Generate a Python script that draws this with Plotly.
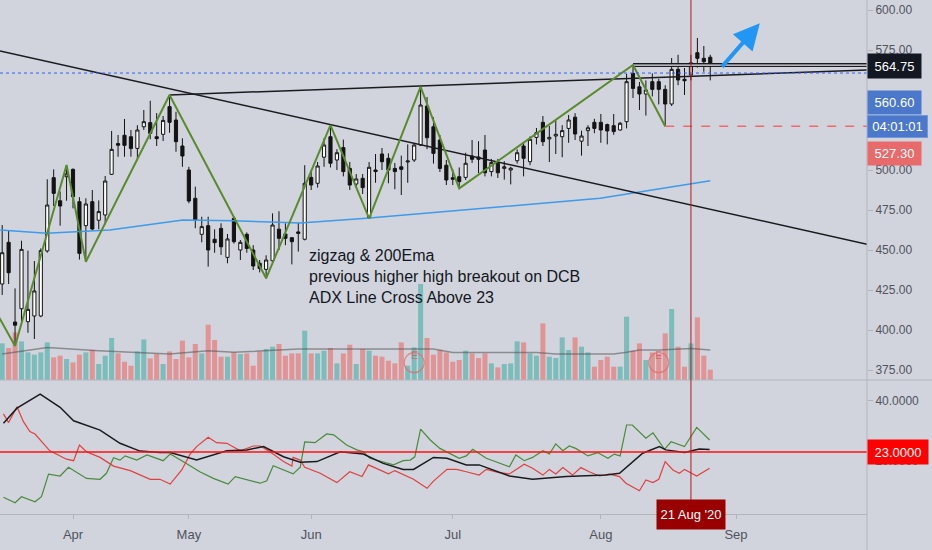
import plotly.graph_objects as go

# Daily bars, DCB Bank (NSE). Bar 0 = 17 Mar 2020, one bar per trading session.
opens = [428.75, 454.8, 405, 413.3, 405.2, 408.75, 408.75, 449.4, 495.2, 480.8,
         495.8, 500.4, 480.2, 465.2, 480.2, 468.6, 471.9, 497.3, 516.5, 521.7,
         520.8, 513.5, 527, 529.6, 520.8, 522.3, 539.6, 531.25, 515, 500,
         482.3, 459.8, 465.2, 456.7, 463.5, 445.4, 469.8, 450, 459.8, 450,
         441.7, 437.9, 443.3, 463, 460, 457.7, 461.3, 456.7, 495.4, 491.7,
         508, 520.8, 506.25, 514, 501, 491.25, 494.8, 470, 500, 510,
         507.3, 501, 502, 505, 506.25, 515.6, 540, 527, 518.75, 503,
         495.2, 495.8, 495.4, 508.75, 508.1, 512.5, 499, 504.2, 501, 500,
         505.8, 515, 505.2, 520.4, 529.8, 519.4, 521.25, 520.8, 526, 533,
         518, 524.6, 529.8, 529.8, 528.4, 527.7, 525, 530.2, 560.4, 552,
         547.5, 555.2, 555.2, 550.4, 541.25, 562.9, 556.7, 559.4, 573.3, 569.8,
         570.5]
highs = [465.6, 462, 426, 455.8, 449.6, 443.1, 451, 494.2, 500.4, 486.6,
         503.1, 501, 483, 482.3, 487.5, 481, 496.25, 524.4, 521.9, 531.9,
         525, 528, 537.5, 543.3, 535.6, 533.75, 546.9, 536.4, 519.8, 502,
         489.6, 470.8, 470.8, 462.9, 466.7, 460, 470.8, 456.25, 461, 453,
         443.75, 446.7, 472.9, 474.2, 466.7, 458, 467, 503, 500, 505,
         519.8, 528.1, 513, 519, 505, 497.5, 497.5, 505, 510, 513.75,
         510.4, 504.4, 509, 516, 517, 552, 545.6, 533, 521.9, 506.25,
         500.4, 501.6, 510.8, 518.75, 518, 521.9, 506.9, 506.9, 505.5, 502,
         512.9, 517, 521, 526.25, 533.75, 527.5, 531, 528, 534.4, 535.5,
         524.6, 528, 532, 535, 529, 535, 530, 560, 565.6, 555,
         556, 560.4, 557, 553, 570, 572, 563.75, 572, 582.5, 577.5,
         572]
lows = [421.9, 428.75, 390, 405.2, 398.3, 394.4, 408, 448.3, 477.5, 465.2,
        480.8, 476, 444, 442.7, 462.5, 463, 466, 496.9, 508.3, 508.3,
        508.3, 506, 525, 519.2, 515, 518.1, 523.3, 511.4, 502, 479.2,
        463.6, 454.8, 439.6, 448.3, 446.9, 441.7, 454, 443.75, 448.3, 437.5,
        436, 432.3, 441, 450, 453, 441, 449, 456, 487.5, 489,
        502, 501.6, 500, 496, 487.5, 489, 485, 469.8, 492, 500,
        491.7, 488, 484.4, 492, 505, 515, 513, 504, 498.75, 490.6,
        490.6, 488.5, 493.75, 504.4, 498, 496, 496, 495, 494, 491,
        504, 496, 503, 516, 515, 505, 510, 508, 517, 518.75,
        509, 515, 523, 517, 516, 522, 524.6, 526, 545, 537.5,
        534, 546, 541, 527.3, 540, 553, 546.9, 556, 564, 561.4,
        556]
closes = [448.3, 435.8, 403, 450.4, 412.9, 424.4, 449.6, 478.1, 485.4, 477.5,
          497.5, 483.3, 447.9, 478.75, 463.1, 474, 493.1, 512.9, 515.5, 515.4,
          513.5, 525, 530.2, 522.9, 519.6, 531, 529.8, 517.7, 508.75, 480.6,
          468.75, 464.6, 450, 454.6, 452, 456.9, 455.2, 454.8, 451, 440,
          438.5, 443.75, 465.6, 457.3, 457.3, 455.2, 460.4, 491.7, 490.6, 502.5,
          515.6, 504.2, 510.8, 499, 490.6, 494.4, 489, 501.7, 499, 505.2,
          500, 499, 500.4, 505.6, 515.6, 540.6, 520.2, 510.4, 501, 493.75,
          494.2, 492.7, 504.2, 506.7, 506.7, 498.3, 504.6, 498.3, 502, 501.1,
          510.8, 507.3, 519.2, 523.3, 517.7, 520.4, 522.3, 524.6, 531.25, 522.5,
          521.25, 526.4, 526, 525, 524.4, 524, 529.2, 555.2, 551, 547.5,
          550, 550.4, 550.4, 541.25, 562.9, 556.25, 555.8, 567, 569.8, 567.7,
          564.75]
# volume, millions of shares
volume = [3.66, 3.2, 4.76, 3.86, 2.76, 2.53, 2.76, 3.76, 2.26, 2.43,
          2.1, 1.76, 2.53, 2.76, 3.0, 1.6, 2.43, 4.2, 2.66, 1.83,
          1.43, 2.86, 4.06, 2.16, 2.6, 1.6, 2.86, 2.1, 3.93, 2.26,
          3.6, 2.66, 5.53, 4.0, 2.33, 2.33, 2.76, 2.6, 2.66, 1.43,
          2.86, 3.1, 3.33, 3.6, 2.43, 2.66, 2.66, 4.93, 2.66, 2.66,
          2.93, 3.2, 1.66, 2.66, 3.53, 1.6, 3.1, 2.93, 2.43, 2.33,
          1.93, 1.66, 3.76, 1.43, 3.26, 9.6, 4.2, 2.53, 3.0, 2.76,
          1.83, 2.0, 2.93, 2.66, 2.2, 2.66, 1.66, 1.26, 1.6, 1.66,
          3.86, 3.76, 2.66, 2.43, 5.66, 2.33, 2.2, 4.26, 3.0, 4.26,
          3.33, 2.76, 1.33, 2.0, 2.33, 1.33, 1.33, 6.33, 2.93, 3.66,
          2.0, 2.76, 2.6, 4.66, 7.1, 3.33, 1.33, 3.66, 6.26, 2.43,
          1.03]

vol_ma_bars = [0, 7, 15, 26, 32, 36, 46, 67, 70, 83, 86, 95, 97, 99, 102, 107, 110]
vol_ma = [2.6, 3.26, 2.93, 2.6, 2.93, 2.77, 3.1, 3.1, 2.76, 2.76, 2.6, 2.6, 2.77, 3.0, 3.0, 3.16, 3.0]

ema_bars = [-0.3, 6.9, 16.7, 28.1, 35.9, 46.3, 56.6, 92.9, 110]
ema200 = [462.5, 460.4, 462.5, 468.8, 468.3, 466.8, 469.8, 482.3, 493.3]

# zigzag pivots
zz_bars = [-3, 2, 10, 13, 26, 41, 51, 57, 65, 71, 98, 103]
zz_price = [426, 390, 503.1, 442.7, 546.9, 432.3, 528.1, 469.8, 552, 488.5, 565.6, 527.3]

# hand-drawn lines, (bar, price) end points
down_tl_bars = [-0.34, 134.35]
down_tl_price = [574.4, 453.6]
up_tl_bars = [26, 134.35]
up_tl_price = [546.9, 562.5]
hh_bars = [98, 134.35]
hh_price = [565.6, 565.6]
arrow_from = (111.6, 563.5)
arrow_to = (117.7, 591.7)

# ADX / DI indicator
adx_bars = [0.2, 2.3, 5.9, 9.0, 11.1, 15.2, 18.3, 21.4, 24.5, 26.1, 30.2, 34.9, 38.0,
            40.6, 43.7, 46.3, 48.9, 52.5, 56.1, 59.2, 62.3, 63.9, 67.0, 69.1, 72.1,
            74.1, 78.8, 82.4, 87.6, 90.2, 93.8, 95.9, 97.9, 99.5, 102.1, 103.1, 106.0,
            108.3, 109.9]
adx = [32.6, 37.6, 42.3, 37.9, 33.4, 30.3, 25.9, 23.3, 22.8, 22.8, 20.3, 23.4, 23.7,
       24.8, 21.4, 19.6, 19.8, 23.1, 22.3, 19.2, 17.2, 17.2, 21.2, 20.9, 18.7,
       18.7, 15.0, 13.9, 14.8, 15.1, 15.3, 15.9, 19.8, 22.6, 24.8, 23.7, 22.8,
       24.0, 23.8]
di_plus_bars = [0.2, 2.0, 3.0, 5.1, 6.1, 7.2, 9.0, 10.3, 13.1, 15.2,
                16.2, 17.3, 18.3, 19.1, 20.9, 22.5, 25.0, 26.1, 28.1, 30.7,
                32.8, 35.1, 36.2, 40.1, 41.1, 42.1, 45.2, 46.3, 47.0, 48.6,
                50.4, 51.5, 53.5, 55.1, 56.1, 57.1, 60.8, 62.3, 63.4, 64.1,
                65.0, 66.5, 68.0, 71.0, 72.1, 73.1, 75.2, 77.2, 78.8, 79.8,
                81.1, 82.4, 84.0, 85.0, 86.0, 87.1, 88.1, 89.1, 91.0, 92.5,
                94.1, 95.1, 96.0, 97.0, 97.9, 100.0, 101.1, 102.9, 103.9, 106.0,
                107.9, 109.9]
di_plus = [7.9, 6.1, 8.1, 6.4, 8.1, 15.6, 15.0, 17.9, 14.2, 13.9,
           15.9, 21.1, 20.3, 21.7, 20.3, 22.0, 20.1, 22.3, 19.8, 16.4,
           14.2, 12.3, 14.8, 12.6, 13.4, 18.4, 15.7, 17.9, 26.4, 26.1,
           29.0, 28.7, 25.3, 23.7, 23.1, 20.9, 18.7, 20.1, 20.3, 21.4,
           30.6, 27.0, 24.2, 20.9, 21.7, 23.9, 20.9, 19.2, 18.1, 22.0,
           20.1, 21.2, 23.4, 22.3, 25.7, 23.4, 25.0, 24.2, 21.7, 22.8,
           20.9, 22.3, 21.7, 32.0, 32.0, 27.6, 29.4, 23.9, 26.4, 24.8,
           31.2, 27.0]
di_minus_bars = [0.2, 1.0, 2.3, 3.3, 4.3, 5.1, 7.4, 10.0, 11.1, 12.0,
                 13.1, 15.2, 17.3, 19.9, 23.0, 24.5, 26.1, 27.9, 29.2, 30.2,
                 32.0, 33.3, 34.9, 37.0, 39.0, 40.1, 41.6, 43.7, 45.0, 45.2,
                 46.3, 47.0, 49.4, 52.0, 54.0, 55.9, 56.9, 60.0, 61.0, 63.9,
                 66.0, 67.0, 69.1, 70.6, 72.1, 74.1, 75.2, 77.2, 78.8, 79.8,
                 81.1, 82.4, 84.0, 85.0, 86.0, 87.1, 88.6, 89.9, 91.2, 92.8,
                 94.3, 95.9, 96.9, 99.0, 100.0, 101.1, 102.0, 103.0, 104.2, 105.2,
                 106.0, 107.9, 109.9]
di_minus = [35.7, 32.8, 38.1, 33.1, 29.8, 29.0, 23.4, 20.6, 20.1, 25.3,
            23.1, 21.2, 18.3, 16.8, 13.9, 13.9, 12.3, 17.0, 22.3, 24.8,
            27.9, 26.1, 25.9, 23.4, 25.0, 25.0, 23.1, 19.8, 18.3, 21.2,
            20.3, 17.9, 15.9, 12.8, 16.4, 14.8, 18.7, 15.7, 16.8, 13.9,
            10.9, 13.3, 17.2, 17.2, 16.4, 15.3, 17.2, 16.1, 15.7, 17.0,
            18.9, 17.6, 15.3, 17.2, 15.7, 17.8, 15.3, 17.8, 16.4, 15.0,
            15.6, 14.8, 12.6, 10.1, 13.7, 12.8, 13.9, 19.8, 17.0, 15.9,
            17.2, 15.0, 17.6]

month_bars = [11, 29, 48, 70, 93, 114]
month_names = ["Apr", "May", "Jun", "Jul", "Aug", "Sep"]
# 525 / 550 sit under the price tags on the scale, so they are not labelled
price_ticks = [375, 400, 425, 450, 475, 500, 575, 600]
adx_ticks = [20, 40]

cursor_bar = 107
cursor_label = "21 Aug '20"
last_price = 564.75
prev_close = 560.60
stop_level = 527.30
adx_level = 23
countdown = "04:01:01"
earnings_bars = [64, 102]
note = ["zigzag & 200Ema", "previous higher high breakout on DCB", "ADX Line Cross Above 23"]

BG = "#d1d4dc"
AXIS = "#b2b5be"
TXT = "#50535e"
FONT = "Liberation Sans, Arial, sans-serif"
X_RANGE = [-0.34, 134.35]

bars = list(range(len(closes)))
vol_colors = ["rgba(38,166,154,0.5)" if c >= o else "rgba(239,83,80,0.5)"
              for o, c in zip(opens, closes)]

fig = go.Figure()

# --- volume (base axis of the main pane) ---
fig.add_trace(go.Bar(x=bars, y=volume, marker_color=vol_colors, marker_line_width=0,
                     width=0.78, xaxis="x", yaxis="y"))
fig.add_trace(go.Scatter(x=vol_ma_bars, y=vol_ma, mode="lines",
                         line=dict(color="rgba(80,80,80,0.55)", width=1.5),
                         xaxis="x", yaxis="y"))

# --- price ---
fig.add_trace(go.Scatter(x=ema_bars, y=ema200, mode="lines",
                         line=dict(color="#3d9be9", width=1.5), xaxis="x", yaxis="y2"))
fig.add_trace(go.Candlestick(
    x=bars, open=opens, high=highs, low=lows, close=closes,
    increasing=dict(fillcolor="#ffffff", line=dict(color="#131313", width=1)),
    decreasing=dict(fillcolor="#131313", line=dict(color="#131313", width=1)),
    whiskerwidth=0, xaxis="x", yaxis="y2",
))
fig.add_trace(go.Scatter(x=down_tl_bars, y=down_tl_price, mode="lines",
                         line=dict(color="#1b1b1f", width=1.5), xaxis="x", yaxis="y2"))
fig.add_trace(go.Scatter(x=up_tl_bars, y=up_tl_price, mode="lines",
                         line=dict(color="#1b1b1f", width=1.5), xaxis="x", yaxis="y2"))
fig.add_trace(go.Scatter(x=hh_bars, y=hh_price, mode="lines",
                         line=dict(color="#1b1b1f", width=4), xaxis="x", yaxis="y2"))
fig.add_trace(go.Scatter(x=hh_bars, y=hh_price, mode="lines",
                         line=dict(color="#e8e9ee", width=1.2), xaxis="x", yaxis="y2"))
fig.add_trace(go.Scatter(x=zz_bars, y=zz_price, mode="lines",
                         line=dict(color="#5a8a2e", width=2), xaxis="x", yaxis="y2"))

# --- ADX pane ---
fig.add_trace(go.Scatter(x=di_plus_bars, y=di_plus, mode="lines",
                         line=dict(color="#4a8a3c", width=1.2), xaxis="x2", yaxis="y3"))
fig.add_trace(go.Scatter(x=di_minus_bars, y=di_minus, mode="lines",
                         line=dict(color="#e04040", width=1.2), xaxis="x2", yaxis="y3"))
fig.add_trace(go.Scatter(x=adx_bars, y=adx, mode="lines",
                         line=dict(color="#1b1b1f", width=1.5), xaxis="x2", yaxis="y3"))

H = 514.0  # plot height in px
main_bottom = (H - 380) / H
sub_top = (H - 382) / H

shapes = [
    # previous close, dotted blue
    dict(type="line", xref="paper", x0=0, x1=1, yref="y2", y0=prev_close, y1=prev_close,
         line=dict(color="#2962ff", width=1, dash="dot")),
    # stop level, dashed red
    dict(type="line", xref="x", x0=zz_bars[-1], x1=X_RANGE[1], yref="y2",
         y0=stop_level, y1=stop_level, line=dict(color="#ef6a6a", width=1.5, dash="dash")),
    # ADX threshold
    dict(type="line", xref="paper", x0=0, x1=1, yref="y3", y0=adx_level, y1=adx_level,
         line=dict(color="#ff1010", width=1.5)),
    # pane separator and right scale border
    dict(type="line", xref="paper", x0=0, x1=932 / 867, yref="paper",
         y0=main_bottom, y1=main_bottom, line=dict(color=AXIS, width=1)),
    dict(type="line", xref="paper", x0=1, x1=1, yref="paper", y0=-0.07, y1=1,
         line=dict(color=AXIS, width=1)),
    # crosshair
    dict(type="line", xref="x", x0=cursor_bar, x1=cursor_bar, yref="paper", y0=-0.003, y1=1,
         line=dict(color="#b01c1c", width=1)),
]
for b in earnings_bars:
    shapes.append(dict(type="circle", xref="x", xsizemode="pixel", xanchor=b, x0=-10, x1=10,
                       yref="paper", ysizemode="pixel", yanchor=(H - 362.7) / H, y0=-10, y1=10,
                       line=dict(color="rgba(229,100,100,0.7)", width=1.2)))

annotations = [
    dict(xref="paper", x=307 / 867, yref="paper", y=(H - 245) / H, xanchor="left", yanchor="top",
         align="left", showarrow=False, text="<br>".join(note),
         font=dict(family=FONT, size=16, color="#131722")),
    dict(xref="x", x=arrow_to[0], yref="y2", y=arrow_to[1],
         axref="x", ax=arrow_from[0], ayref="y2", ay=arrow_from[1],
         showarrow=True, arrowhead=2, arrowsize=1.3, arrowwidth=4, arrowcolor="#2196f3", text=""),
    dict(xref="paper", x=1, xanchor="left", yref="y2", y=last_price, showarrow=False,
         text=f"{last_price:.2f}", bgcolor="#131722", width=53, height=24, borderpad=0,
         font=dict(family=FONT, size=13, color="#ffffff")),
    dict(xref="paper", x=1, xanchor="left", yref="paper", y=(H - 90) / H, showarrow=False,
         text=f"{prev_close:.2f}", bgcolor="#4c78cc", width=53, height=23, borderpad=0,
         font=dict(family=FONT, size=13, color="#ffffff")),
    dict(xref="paper", x=1, xanchor="left", yref="paper", y=(H - 115) / H, showarrow=False,
         text=countdown, bgcolor="#4c78cc", bordercolor="#7397dc", borderwidth=1,
         width=59, height=21, borderpad=0,
         font=dict(family=FONT, size=13, color="#ffffff")),
    dict(xref="paper", x=1, xanchor="left", yref="paper", y=(H - 140.5) / H, showarrow=False,
         text=f"{stop_level:.2f}", bgcolor="#e86a6a", width=53, height=23, borderpad=0,
         font=dict(family=FONT, size=13, color="#ffffff")),
    dict(xref="paper", x=1, xanchor="left", yref="y3", y=adx_level, showarrow=False,
         text=f"{adx_level:.4f}", bgcolor="#ff0000", width=60, height=24, borderpad=0,
         font=dict(family=FONT, size=13, color="#ffffff")),
    dict(xref="x", x=cursor_bar, yref="paper", y=(H - 529.5) / H, showarrow=False,
         text=cursor_label, bgcolor="#990000", width=68, height=29, borderpad=0,
         font=dict(family=FONT, size=13, color="#ffffff")),
]
for b in earnings_bars:
    annotations.append(dict(xref="x", x=b, yref="paper", y=(H - 362.7) / H, showarrow=False,
                            text="E", font=dict(family=FONT, size=11, color="rgba(214,90,90,0.75)")))

fig.update_layout(
    width=932, height=550,
    margin=dict(l=0, r=65, t=0, b=36),
    paper_bgcolor=BG, plot_bgcolor=BG,
    showlegend=False, hovermode=False,
    font=dict(family=FONT, size=12, color=TXT),
    xaxis=dict(domain=[0, 1], range=X_RANGE, anchor="y", showticklabels=False,
               showgrid=False, zeroline=False, rangeslider=dict(visible=False)),
    xaxis2=dict(domain=[0, 1], range=X_RANGE, anchor="y3", matches="x",
                tickvals=month_bars, ticktext=month_names, ticks="outside", ticklen=4,
                tickcolor=AXIS, showline=True, linecolor=AXIS, showgrid=False, zeroline=False,
                tickfont=dict(size=13, color=TXT), ticklabelstandoff=4),
    yaxis=dict(domain=[main_bottom, 1], range=[0, 38.0], visible=False, fixedrange=True),
    yaxis2=dict(overlaying="y", anchor="x", side="right", range=[368.75, 606.25],
                tickvals=price_ticks, tickformat=".2f", ticks="outside", ticklen=5,
                tickcolor=AXIS, showgrid=False, zeroline=False, showline=False,
                tickfont=dict(size=12, color=TXT)),
    yaxis3=dict(domain=[0, sub_top], anchor="x2", side="right", range=[2.33, 46.33],
                tickvals=adx_ticks, tickformat=".4f", ticks="outside", ticklen=5,
                tickcolor=AXIS, showgrid=False, zeroline=False, showline=False,
                tickfont=dict(size=12, color=TXT)),
    shapes=shapes,
    annotations=annotations,
)

# the page body has an 8px default margin; drop it so the figure fills the window
fig.write_html("out.html", config={"displayModeBar": False},
               post_script="document.body.style.margin='0';document.body.style.overflow='hidden';")
